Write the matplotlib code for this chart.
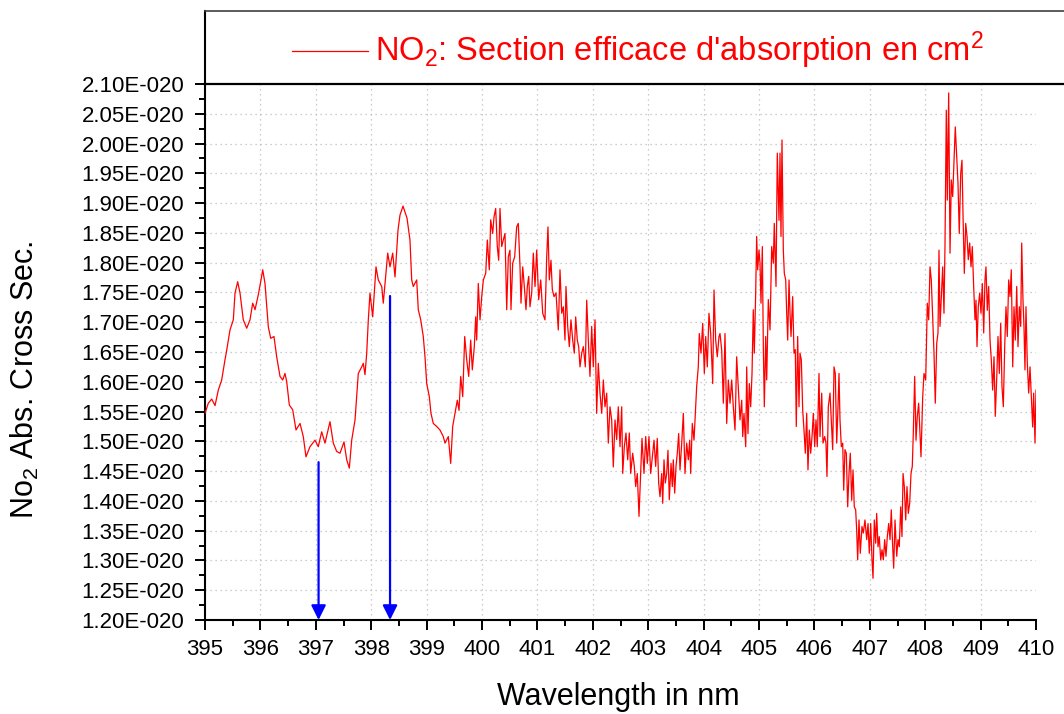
import numpy as np
import matplotlib
matplotlib.use("Agg")
import matplotlib.pyplot as plt
from matplotlib.lines import Line2D
from matplotlib.ticker import MultipleLocator, FuncFormatter

plt.rcParams['font.family'] = ['Liberation Sans', 'DejaVu Sans']
plt.rcParams['mathtext.fontset'] = 'custom'
plt.rcParams['mathtext.rm'] = 'Liberation Sans'
plt.rcParams['mathtext.it'] = 'Liberation Sans:italic'
plt.rcParams['mathtext.default'] = 'regular'

# ---- data (wavelength in nm, cross section in units of 1e-20 cm^2) ----
wavelength = [
    395.000, 395.060, 395.121, 395.181, 395.240, 395.301, 395.361, 395.392, 395.451, 395.511,
    395.542, 395.590, 395.632, 395.691, 395.753, 395.812, 395.861, 395.903, 395.962, 396.011,
    396.042, 396.083, 396.114, 396.143, 396.186, 396.245, 396.294, 396.354, 396.403, 396.444,
    396.475, 396.522, 396.583, 396.643, 396.715, 396.774, 396.823, 396.895, 396.986, 397.045,
    397.106, 397.166, 397.256, 397.316, 397.377, 397.437, 397.509, 397.558, 397.605, 397.648,
    397.708, 397.767, 397.829, 397.857, 397.888, 397.919, 397.948, 397.978, 398.027, 398.051,
    398.087, 398.128, 398.190, 398.218, 398.255, 398.298, 398.339, 398.388, 398.430, 398.471,
    398.484, 398.520, 398.574, 398.610, 398.646, 398.700, 398.731, 398.760, 398.821, 398.850,
    398.894, 398.940, 398.971, 399.002, 399.049, 399.079, 399.121, 399.182,
    399.242, 399.301, 399.332, 399.392, 399.435, 399.471, 399.513, 399.554, 399.585, 399.616,
    399.652, 399.688, 399.724, 399.760, 399.796, 399.825, 399.861, 399.886, 399.904, 399.933,
    399.964, 399.995, 400.024, 400.067, 400.096, 400.132, 400.157, 400.193, 400.217, 400.247,
    400.276, 400.301, 400.325, 400.356, 400.384, 400.415, 400.446, 400.475, 400.505, 400.523,
    400.554, 400.590, 400.626, 400.655, 400.686, 400.704, 400.735, 400.764, 400.794, 400.818,
    400.843, 400.866, 400.897, 400.926, 400.957, 400.987, 401.023, 401.060, 401.096, 401.137,
    401.168, 401.191, 401.215, 401.245, 401.269, 401.300, 401.336, 401.377, 401.408, 401.439,
    401.468, 401.498, 401.516, 401.547, 401.576, 401.606, 401.637, 401.666, 401.691, 401.720,
    401.745, 401.769, 401.800, 401.829, 401.865, 401.890, 401.919, 401.949, 401.980, 402.009,
    402.040, 402.070, 402.099, 402.130, 402.161, 402.190, 402.220, 402.251, 402.280, 402.310,
    402.341, 402.370, 402.401, 402.431, 402.460, 402.491, 402.522, 402.540, 402.569, 402.599,
    402.630, 402.659, 402.684, 402.720, 402.749, 402.774, 402.803, 402.834, 402.865, 402.888,
    402.924, 402.955, 402.984, 403.014, 403.045, 403.074, 403.105, 403.135, 403.164, 403.189,
    403.213, 403.244, 403.262, 403.285, 403.309, 403.334, 403.357, 403.381, 403.412, 403.435,
    403.453, 403.478, 403.502, 403.525, 403.550, 403.574, 403.605, 403.634, 403.664, 403.695,
    403.724, 403.749, 403.767, 403.796, 403.827, 403.857, 403.875, 403.904, 403.922, 403.953,
    403.984, 404.013, 404.038, 404.067, 404.097, 404.128, 404.164, 404.188, 404.218, 404.247,
    404.278,
    404.296, 404.327, 404.356, 404.386, 404.417, 404.446, 404.477, 404.507, 404.536, 404.567,
    404.597, 404.626, 404.657, 404.688, 404.706, 404.729, 404.760, 404.778, 404.801, 404.825,
    404.850, 404.874, 404.897, 404.915, 404.940, 404.958, 404.976, 405.000, 405.018, 405.036,
    405.060, 405.078, 405.096, 405.121, 405.139, 405.168, 405.199, 405.229, 405.258, 405.276,
    405.307, 405.330, 405.361, 405.379, 405.397, 405.415, 405.439, 405.457, 405.482, 405.500,
    405.518, 405.542, 405.560, 405.578, 405.608, 405.632, 405.655, 405.673, 405.698, 405.722,
    405.740, 405.764, 405.789, 405.812, 405.836, 405.861, 405.884, 405.908, 405.933, 405.957,
    405.981, 406.005, 406.029, 406.052, 406.083, 406.101, 406.132, 406.155, 406.186, 406.209,
    406.227, 406.251, 406.282, 406.305, 406.330, 406.354, 406.377, 406.403, 406.426, 406.444,
    406.462, 406.486, 406.511, 406.529, 406.552, 406.576, 406.601, 406.625, 406.648, 406.673,
    406.697, 406.720, 406.745, 406.763, 406.781, 406.805, 406.828, 406.859, 406.883, 406.913,
    406.944, 406.968, 406.991, 407.016, 407.040, 407.058, 407.081, 407.106, 407.124, 407.148,
    407.171, 407.197, 407.220, 407.244, 407.269, 407.292, 407.316, 407.341, 407.365, 407.388,
    407.413, 407.431, 407.455, 407.486, 407.509, 407.532, 407.558, 407.581, 407.600, 407.623,
    407.648, 407.671, 407.695, 407.720, 407.744, 407.767, 407.785, 407.810, 407.834, 407.857,
    407.882,
    407.924, 407.955, 407.978, 408.009, 408.038, 408.063, 408.087, 408.110, 408.135, 408.159,
    408.182, 408.208, 408.231, 408.249, 408.267, 408.291, 408.316, 408.339, 408.357, 408.381,
    408.399, 408.424, 408.448, 408.471, 408.496, 408.520, 408.543, 408.569, 408.592, 408.615,
    408.641, 408.664, 408.682, 408.706, 408.731, 408.755, 408.778, 408.803, 408.827, 408.850,
    408.875, 408.899, 408.917, 408.935, 408.958, 408.984, 409.007, 409.031, 409.056, 409.079,
    409.097, 409.121, 409.146, 409.170, 409.193, 409.218, 409.242, 409.265, 409.290, 409.314,
    409.338, 409.363, 409.386, 409.410, 409.435, 409.458, 409.482, 409.507, 409.531, 409.554,
    409.580, 409.603, 409.626, 409.652, 409.675, 409.699, 409.724, 409.742, 409.765, 409.783,
    409.801, 409.819, 409.843, 409.868, 409.892, 409.915, 409.940, 409.958, 409.982, 410.000,
]

cross_section = [
    1.547, 1.564, 1.571, 1.560, 1.586, 1.603, 1.637, 1.653, 1.687, 1.704,
    1.749, 1.768, 1.749, 1.704, 1.690, 1.704, 1.732, 1.721, 1.746, 1.771,
    1.788, 1.765, 1.726, 1.692, 1.673, 1.676, 1.642, 1.609, 1.603, 1.614,
    1.600, 1.561, 1.553, 1.519, 1.530, 1.508, 1.474, 1.491, 1.502, 1.491,
    1.516, 1.497, 1.533, 1.497, 1.483, 1.480, 1.499, 1.469, 1.455, 1.502,
    1.536, 1.614, 1.625, 1.631, 1.612, 1.648, 1.704, 1.749, 1.709, 1.743,
    1.793, 1.771, 1.760, 1.732, 1.771, 1.816, 1.793, 1.816, 1.776, 1.838,
    1.855, 1.880, 1.895, 1.885, 1.875, 1.838, 1.771, 1.760, 1.771, 1.721,
    1.704, 1.676, 1.642, 1.597, 1.575, 1.547, 1.530, 1.525,
    1.519, 1.508, 1.497, 1.508, 1.463, 1.525, 1.547, 1.569, 1.552, 1.609,
    1.575, 1.676, 1.637, 1.609, 1.670, 1.620, 1.659, 1.709, 1.670, 1.765,
    1.704, 1.743, 1.771, 1.782, 1.838, 1.788, 1.872, 1.849, 1.877, 1.891,
    1.827, 1.804, 1.891, 1.827, 1.838, 1.849, 1.721, 1.810, 1.821, 1.721,
    1.799, 1.810, 1.860, 1.866, 1.793, 1.732, 1.793, 1.760, 1.721, 1.760,
    1.777, 1.726, 1.749, 1.816, 1.760, 1.821, 1.738, 1.771, 1.715, 1.704,
    1.810, 1.860, 1.771, 1.804, 1.755, 1.743, 1.749, 1.687, 1.788, 1.715,
    1.726, 1.670, 1.760, 1.693, 1.659, 1.704, 1.670, 1.648, 1.709, 1.670,
    1.659, 1.625, 1.648, 1.659, 1.625, 1.737, 1.670, 1.609, 1.693, 1.625,
    1.704, 1.547, 1.631, 1.581, 1.547, 1.603, 1.558, 1.581, 1.497, 1.558,
    1.536, 1.457, 1.536, 1.503, 1.558, 1.491, 1.558, 1.446, 1.491, 1.514,
    1.469, 1.514, 1.446, 1.480, 1.458, 1.424, 1.446, 1.374, 1.452, 1.505,
    1.446, 1.508, 1.463, 1.508, 1.446, 1.474, 1.502, 1.458, 1.505, 1.430,
    1.407, 1.446, 1.396, 1.469, 1.430, 1.446, 1.485, 1.402, 1.463, 1.424,
    1.469, 1.413, 1.458, 1.480, 1.513, 1.452, 1.497, 1.547, 1.446, 1.497,
    1.469, 1.502, 1.446, 1.530, 1.502, 1.558, 1.592, 1.625, 1.681, 1.648,
    1.698, 1.614, 1.676, 1.625, 1.715, 1.681, 1.597, 1.754, 1.670, 1.642,
    1.676,
    1.681, 1.653, 1.564, 1.681, 1.530, 1.603, 1.564, 1.603, 1.558, 1.519,
    1.642, 1.592, 1.536, 1.569, 1.508, 1.547, 1.491, 1.625, 1.513, 1.597,
    1.558, 1.614, 1.721, 1.648, 1.749, 1.844, 1.788, 1.821, 1.799, 1.732,
    1.827, 1.659, 1.558, 1.676, 1.603, 1.738, 1.687, 1.827, 1.799, 1.866,
    1.760, 1.984, 1.871, 1.984, 1.844, 2.006, 1.821, 1.782, 1.771, 1.715,
    1.670, 1.771, 1.715, 1.676, 1.743, 1.648, 1.654, 1.525, 1.676, 1.558,
    1.648, 1.637, 1.552, 1.519, 1.480, 1.547, 1.452, 1.519, 1.480, 1.508,
    1.547, 1.491, 1.536, 1.491, 1.614, 1.508, 1.581, 1.497, 1.508, 1.497,
    1.441, 1.558, 1.581, 1.536, 1.486, 1.625, 1.614, 1.497, 1.558, 1.614,
    1.536, 1.491, 1.497, 1.418, 1.486, 1.480, 1.390, 1.447, 1.480, 1.401,
    1.452, 1.390, 1.385, 1.351, 1.301, 1.368, 1.312, 1.357, 1.346, 1.368,
    1.335, 1.362, 1.312, 1.362, 1.301, 1.270, 1.368, 1.329, 1.379, 1.323,
    1.340, 1.301, 1.318, 1.301, 1.335, 1.307, 1.340, 1.362, 1.335, 1.385,
    1.323, 1.287, 1.368, 1.307, 1.335, 1.323, 1.390, 1.340, 1.446, 1.424,
    1.368, 1.424, 1.379, 1.396, 1.446, 1.458, 1.513, 1.609, 1.502, 1.541,
    1.564,
    1.474, 1.575, 1.614, 1.603, 1.732, 1.704, 1.793, 1.771, 1.709, 1.648,
    1.564, 1.665, 1.682, 1.821, 1.693, 1.743, 1.793, 1.715, 1.827, 2.056,
    1.905, 2.085, 1.816, 1.939, 1.911, 1.972, 2.028, 1.978, 1.933, 1.849,
    1.950, 1.972, 1.883, 1.782, 1.866, 1.844, 1.805, 1.833, 1.793, 1.827,
    1.760, 1.704, 1.737, 1.659, 1.726, 1.749, 1.715, 1.765, 1.682, 1.771,
    1.793, 1.720, 1.760, 1.670, 1.637, 1.586, 1.642, 1.542, 1.603, 1.676,
    1.614, 1.698, 1.592, 1.558, 1.659, 1.726, 1.676, 1.771, 1.743, 1.788,
    1.625, 1.726, 1.670, 1.760, 1.659, 1.726, 1.693, 1.833, 1.737, 1.693,
    1.620, 1.726, 1.631, 1.581, 1.625, 1.575, 1.524, 1.581, 1.497, 1.586,
]

# blue marker arrows (wavelength, top of arrow in 1e-20 units)
arrow_wavelengths = [397.05, 398.34]
arrow_tops = [1.465, 1.744]

x_ticks = list(range(395, 411))
y_ticks = [round(1.20 + 0.05 * i, 2) for i in range(19)]

SCALE = 1e-20
W, H = 1064, 714
fig = plt.figure(figsize=(W / 100, H / 100), dpi=100)

def fx(px):
    return px / W

def fy(py):
    return 1 - py / H

ax = fig.add_axes([fx(205), fy(620), fx(1036) - fx(205), fy(84) - fy(620)])

ax.plot(wavelength, np.array(cross_section) * SCALE, color='#ff0000', lw=0.9, zorder=3)

ax.set_xlim(395, 410)
ax.set_ylim(1.20 * SCALE, 2.10 * SCALE)
ax.set_xticks(x_ticks)
ax.set_yticks([v * SCALE for v in y_ticks])
ax.xaxis.set_minor_locator(MultipleLocator(0.5))
ax.yaxis.set_minor_locator(MultipleLocator(0.025 * SCALE))
ax.yaxis.set_major_formatter(FuncFormatter(lambda v, p: f"{v / SCALE:.2f}E-020"))
ax.xaxis.set_major_formatter(FuncFormatter(lambda v, p: f"{v:.0f}"))

ax.tick_params(which='major', direction='out', length=7, width=1.4, colors='black')
ax.tick_params(which='minor', direction='out', length=4.5, width=1.4)
ax.tick_params(axis='y', pad=8, labelsize=16)
ax.tick_params(axis='x', pad=7, labelsize=16)

for side in ['right', 'top']:
    ax.spines[side].set_visible(False)
for side in ['left', 'bottom']:
    ax.spines[side].set_linewidth(1.5)
    ax.spines[side].set_color('black')

ax.grid(True, which='major', color='#bdbdbd', linestyle=(0, (1, 3)), lw=0.9)
xgl = ax.xaxis.get_gridlines()
xgl[0].set_visible(False)
xgl[-1].set_visible(False)
ygl = ax.yaxis.get_gridlines()
ygl[0].set_visible(False)
ygl[-1].set_visible(False)
ax.set_axisbelow(True)

for xw, top in zip(arrow_wavelengths, arrow_tops):
    ax.annotate('', xy=(xw, 1.20 * SCALE), xytext=(xw, top * SCALE),
                arrowprops=dict(arrowstyle='-|>', color='#0000ff', lw=1.6,
                                mutation_scale=22, shrinkA=0, shrinkB=0),
                zorder=4, annotation_clip=False)

# legend box on top
lax = fig.add_axes([fx(205), fy(84), 1 - fx(205), fy(11) - fy(84)])
lax.set_xticks([])
lax.set_yticks([])
lax.patch.set_alpha(0)
lax.spines['right'].set_visible(False)
lax.spines['top'].set_color('#404040')
lax.spines['top'].set_linewidth(1.2)
lax.spines['left'].set_color('black')
lax.spines['left'].set_linewidth(1.5)
lax.spines['bottom'].set_color('black')
lax.spines['bottom'].set_linewidth(1.6)

fig.add_artist(Line2D([fx(292), fx(368)], [fy(51), fy(51)], color='#ff0000', lw=0.9))
fig.text(fx(375), fy(61), "NO$_2$: Section efficace d'absorption en cm$^2$",
         color='#ff0000', fontsize=23.5, ha='left', va='baseline')

# axis titles
fig.text(fx(618), fy(697), 'Wavelength in nm', fontsize=22, ha='center', va='center')
fig.text(fx(25), fy(380), 'No$_2$ Abs. Cross Sec.', fontsize=22, rotation=90,
         ha='center', va='center')

fig.savefig('out.png', dpi=100)
